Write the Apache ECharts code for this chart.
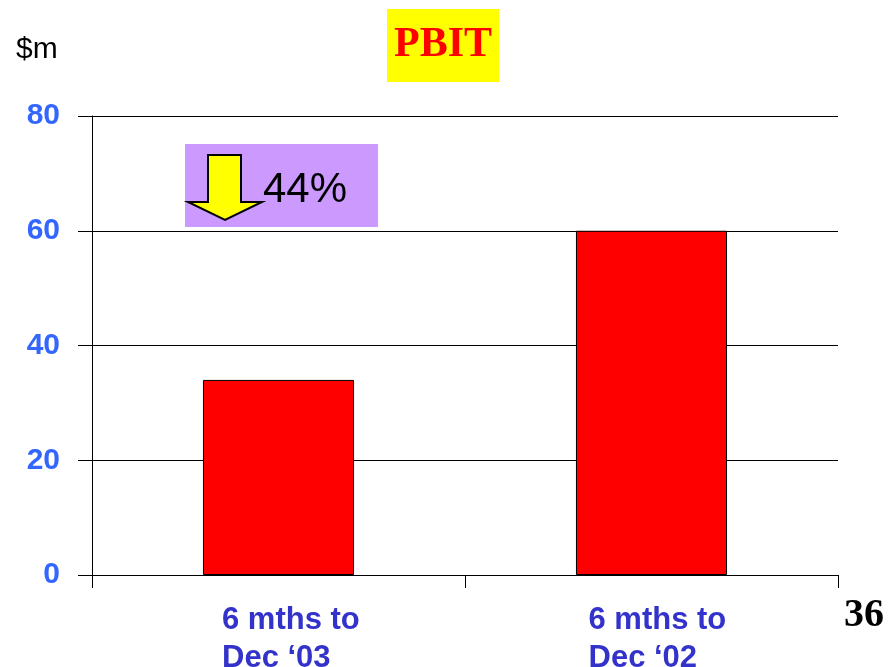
<!DOCTYPE html>
<html>
<head>
<meta charset="utf-8">
<script src="https://cdn.jsdelivr.net/npm/echarts@6/dist/echarts.min.js"></script>
<style>
  html, body { margin: 0; padding: 0; background: #fff; }
  #chart { width: 889px; height: 667px; }
</style>
</head>
<body>
<div id="chart"></div>
<script>
// PBIT by half-year period, $m
const categories = ['6 mths to\nDec \u201803', '6 mths to\nDec \u201802'];
const pbitValues = [34, 60];
const yTicks = { min: 0, max: 80, interval: 20 };
const unitLabel = '$m';
const changeLabel = '44%';
const pageNumber = '36';

// block widths that keep each two-line category label left-aligned
const labelBlockWidths = [113, 126];

const chart = echarts.init(document.getElementById('chart'));

const richStyles = {};
labelBlockWidths.forEach((w, i) => {
  richStyles['c' + i] = {
    width: w,
    align: 'left',
    color: '#3333CC',
    fontFamily: 'Liberation Sans',
    fontWeight: 'bold',
    fontSize: 31,
    lineHeight: 38
  };
});

chart.setOption({
  animation: false,
  title: {
    text: 'PBIT',
    left: 387,
    top: 9,
    backgroundColor: '#FFFF00',
    padding: [15, 7, 15, 7],
    textStyle: {
      color: '#FF0000',
      fontFamily: 'Liberation Serif',
      fontWeight: 'bold',
      fontSize: 42,
      lineHeight: 43
    }
  },
  grid: { left: 92, right: 51, top: 116, bottom: 92, outerBoundsMode: 'none' },
  xAxis: {
    type: 'category',
    data: categories,
    boundaryGap: true,
    axisLine: { show: true, lineStyle: { color: '#000', width: 1 } },
    axisTick: { show: true, length: 13, alignWithLabel: false, lineStyle: { color: '#000', width: 1 } },
    axisLabel: {
      margin: 26,
      interval: 0,
      formatter: (value, idx) => value.split('\n').map(s => '{c' + idx + '|' + s + '}').join('\n'),
      rich: richStyles
    }
  },
  yAxis: {
    type: 'value',
    min: yTicks.min,
    max: yTicks.max,
    interval: yTicks.interval,
    axisLine: { show: true, lineStyle: { color: '#000', width: 1 } },
    axisTick: { show: true, inside: false, length: 14, lineStyle: { color: '#000', width: 1 } },
    splitLine: { show: true, lineStyle: { color: '#000', width: 1 } },
    axisLabel: {
      margin: 32,
      color: '#3366FF',
      fontFamily: 'Liberation Sans',
      fontWeight: 'bold',
      fontSize: 30,
      padding: [4, 0, 0, 0]
    }
  },
  series: [{
    type: 'bar',
    data: pbitValues,
    barWidth: '40.5%',
    itemStyle: { color: '#FF0000', borderColor: '#000', borderWidth: 1 }
  }],
  graphic: [
    {
      type: 'text',
      left: 16,
      top: 35,
      style: { text: unitLabel, fill: '#000', font: '30px "Liberation Sans"' }
    },
    {
      type: 'rect',
      shape: { x: 185, y: 144, width: 193, height: 83 },
      style: { fill: '#CC99FF' }
    },
    {
      type: 'polygon',
      shape: {
        points: [[208, 155], [241, 155], [241, 202], [262, 202], [225, 220], [188, 202], [208, 202]]
      },
      style: { fill: '#FFFF00', stroke: '#000', lineWidth: 2 }
    },
    {
      type: 'text',
      x: 263,
      y: 190,
      style: {
        text: changeLabel,
        fill: '#000',
        font: '42px "Liberation Sans"',
        textVerticalAlign: 'middle'
      }
    },
    {
      type: 'text',
      x: 844,
      y: 616,
      style: {
        text: pageNumber,
        fill: '#000',
        font: 'bold 40px "Liberation Serif"',
        textVerticalAlign: 'middle'
      }
    }
  ]
});
</script>
</body>
</html>
